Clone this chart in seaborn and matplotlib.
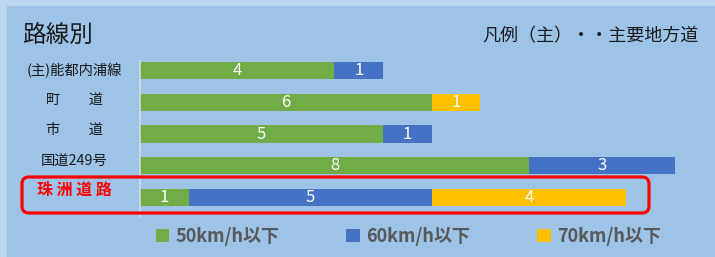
import numpy as np
import pandas as pd
import seaborn as sns
import matplotlib.pyplot as plt
from matplotlib.patches import Rectangle, FancyBboxPatch, Patch

# data
routes = ["(主)能都内浦線", "町　　道", "市　　道", "国道249号", "珠 洲 道 路"]
speed_bins = ["50km/h以下", "60km/h以下", "70km/h以下"]
v50 = [4, 6, 5, 8, 1]
v60 = [1, 0, 1, 3, 5]
v70 = [0, 1, 0, 0, 4]
colors = ["#70AD47", "#4472C4", "#FFC000"]
label_dy = [0.0, -0.07, -0.13, -0.15, -0.24]

df = pd.DataFrame({"route": routes, speed_bins[0]: v50,
                   speed_bins[1]: v60, speed_bins[2]: v70})

sns.set_theme(style="white")
plt.rcParams["font.family"] = ["Noto Sans CJK JP", "DejaVu Sans"]

fig = plt.figure(figsize=(7.15, 2.57), dpi=100)
fig.patch.set_facecolor("#BDD7EE")
fig.patches.append(Rectangle((0.07, 0), 7.08, 2.51, transform=fig.dpi_scale_trans,
                             facecolor="#9DC3E6", edgecolor="none", zorder=-5))

ax = fig.add_axes([140 / 715, 1 - 217 / 257, 560 / 715, 156 / 257])
ax.set_facecolor("none")
ax.set_zorder(2)

# stacked bars drawn as cumulative overlays (seaborn barplot)
cum = df[speed_bins].cumsum(axis=1)
for i in range(2, -1, -1):
    sns.barplot(x=cum[speed_bins[i]], y=np.arange(len(routes)), orient="h",
                color=colors[i], width=0.54, saturation=1, ax=ax,
                edgecolor="none", linewidth=0)

# value labels
lefts = np.zeros(len(routes))
for i, s in enumerate(speed_bins):
    vals = df[s].values
    for j, v in enumerate(vals):
        if v > 0:
            ax.text(lefts[j] + v / 2, j, str(v), ha="center", va="center",
                    color="white", fontsize=12)
    lefts = lefts + vals

ax.set_xlim(0, 560 / 48.6)
ax.set_ylim(4.61, -0.3)
ax.set_xticks([])
ax.set_yticks([])
ax.set_xlabel("")
ax.set_ylabel("")
for sp in ["top", "right", "bottom"]:
    ax.spines[sp].set_visible(False)
ax.spines["left"].set_color("#D9D9D9")
ax.spines["left"].set_linewidth(1.2)

# category labels
for j, r in enumerate(routes):
    last = j == len(routes) - 1
    ax.text((74 - 140) / 560, j + label_dy[j], r,
            transform=ax.get_yaxis_transform(), ha="center", va="center",
            fontsize=11.5 if last else 10.3, color="#FF0000" if last else "#1a1a1a",
            fontweight="bold" if last else "normal", clip_on=False)

# highlight box
fig.patches.append(FancyBboxPatch((0.22, 0.44), 6.27, 0.36,
                                  boxstyle="round,pad=0,rounding_size=0.07",
                                  transform=fig.dpi_scale_trans, facecolor="none",
                                  edgecolor="#FF0000", linewidth=2.3, zorder=5))

fig.text(22 / 715, 1 - 35 / 257, "路線別", fontsize=17, va="center", ha="left",
         color="#1a1a1a")
fig.text(699 / 715, 1 - 36 / 257, "凡例（主）・・主要地方道", fontsize=13,
         va="center", ha="right", color="#1a1a1a")

handles = [Patch(facecolor=c, edgecolor="none", label=l) for c, l in zip(colors, speed_bins)]
fig.legend(handles=handles, loc="center", bbox_to_anchor=(0.571, 1 - 236 / 257),
           ncol=3, frameon=False, handlelength=0.75, handleheight=0.75,
           handletextpad=0.35, columnspacing=3.7,
           prop={"size": 13, "weight": "bold", "family": ["Noto Sans CJK JP", "DejaVu Sans"]},
           labelcolor="#595959")

fig.savefig("out.png", dpi=100, facecolor=fig.get_facecolor())
